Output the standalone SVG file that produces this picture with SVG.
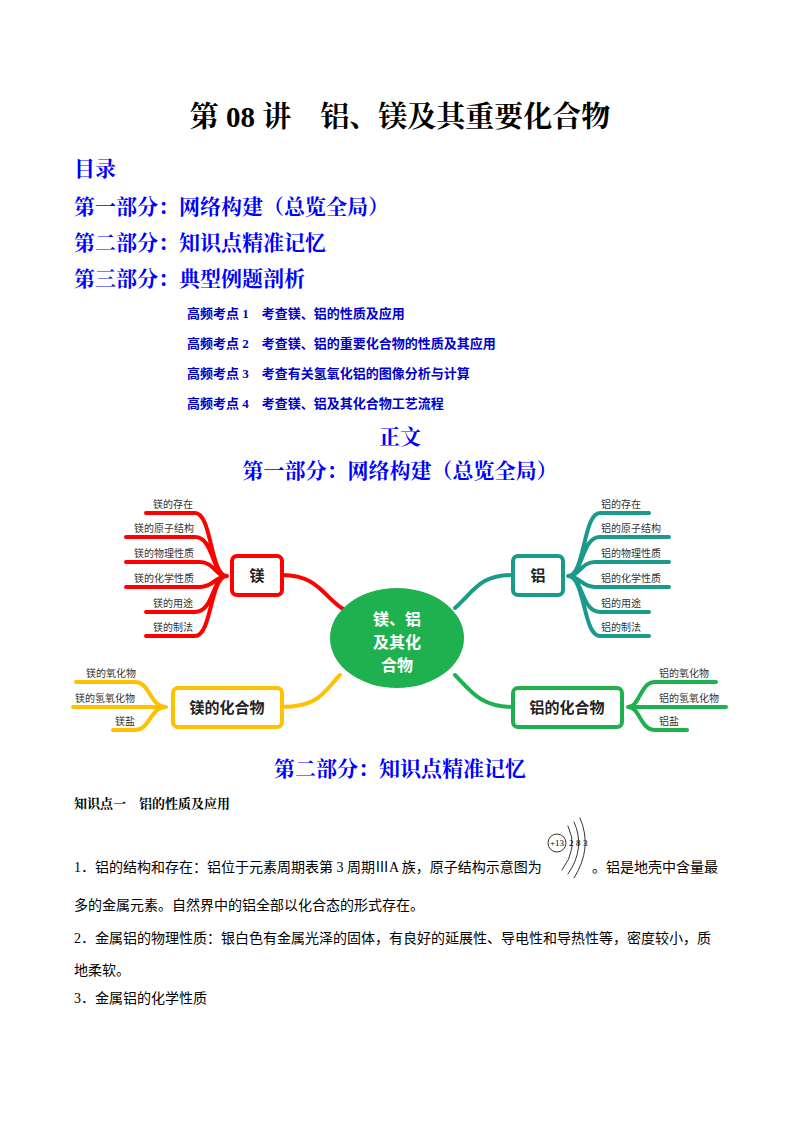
<svg xmlns="http://www.w3.org/2000/svg" width="800" height="1132" viewBox="0 0 800 1132">
<style>
.t{font-family:"Liberation Serif","Noto Serif CJK SC","Noto Sans CJK SC",serif;font-weight:bold}
.b{fill:#0000ff}
.s{font-family:"Liberation Serif","Noto Sans CJK SC",serif;font-size:13px;font-weight:bold;fill:#0000cc}
.p{font-family:"Liberation Serif","Noto Sans CJK SC",serif;font-size:14px;fill:#000}
.lf{font-family:"Noto Sans CJK SC",sans-serif;font-size:10px;fill:#333}
.bx{font-family:"Noto Sans CJK SC",sans-serif;font-size:15px;font-weight:bold;fill:#222}
.c{font-family:"Noto Sans CJK SC",sans-serif;font-weight:bold;font-size:16px;fill:#fff}
.r{stroke:#ff0000}.y{stroke:#ffc000}.g{stroke:#1a9a8a}.gr{stroke:#1fb050}
path{fill:none;stroke-width:4;stroke-linecap:round}
</style>
<rect width="800" height="1132" fill="#fff"/>
<text class="t" x="400" y="127" font-size="29" text-anchor="middle">第 08 讲　铝、镁及其重要化合物</text>
<text class="t b" x="74" y="176" font-size="21">目录</text>
<text class="t b" x="74" y="214" font-size="21">第一部分：网络构建（总览全局）</text>
<text class="t b" x="74" y="250" font-size="21">第二部分：知识点精准记忆</text>
<text class="t b" x="74" y="286" font-size="21">第三部分：典型例题剖析</text>
<text class="s" x="187" y="318">高频考点 1　考查镁、铝的性质及应用</text>
<text class="s" x="187" y="348">高频考点 2　考查镁、铝的重要化合物的性质及其应用</text>
<text class="s" x="187" y="378">高频考点 3　考查有关氢氧化铝的图像分析与计算</text>
<text class="s" x="187" y="408">高频考点 4　考查镁、铝及其化合物工艺流程</text>
<text class="t b" x="400" y="444" font-size="21" text-anchor="middle">正文</text>
<text class="t b" x="400" y="478" font-size="21" text-anchor="middle">第一部分：网络构建（总览全局）</text>
<g id="connectors">
<path class="r" d="M282 575 C320 575 325 600 345 610"/>
<path class="r" d="M227 576 C210 576 212 513 195 513 L146 513 M227 576 C212 576 214 537 195 537 L126 537 M227 576 C215 576 214 562 200 562 L126 562 M227 576 C215 576 214 587 200 587 L126 587 M227 576 C212 576 214 612 195 612 L146 612 M227 576 C210 576 212 636 195 636 L146 636"/>
<path class="y" d="M282 707 C320 707 325 690 340 675"/>
<path class="y" d="M166 707 C150 707 150 682 135 682 L76 682 M166 707 L73 707 M166 707 C150 707 150 730 135 730 L113 730"/>
<path class="g" d="M513 575 C480 575 475 590 455 608"/>
<path class="g" d="M568 576 C585 576 583 513 600 513 L649 513 M568 576 C583 576 581 537 600 537 L669 537 M568 576 C580 576 581 562 595 562 L669 562 M568 576 C580 576 581 587 595 587 L669 587 M568 576 C583 576 581 612 600 612 L649 612 M568 576 C585 576 583 636 600 636 L649 636"/>
<path class="gr" d="M513 707 C480 707 470 690 455 675"/>
<path class="gr" d="M628 707 C640 707 640 682 655 682 L716 682 M628 707 L726 707 M628 707 C640 707 640 730 655 730 L687 730"/>
</g>
<g id="center"><ellipse cx="397" cy="638" rx="67" ry="50" fill="#1fb050"/>
<text class="c" x="397" y="625" text-anchor="middle">镁、铝</text>
<text class="c" x="397" y="648" text-anchor="middle">及其化</text>
<text class="c" x="397" y="671" text-anchor="middle">合物</text></g>
<g id="mg"><rect x="232" y="556" width="50" height="39" rx="5" fill="#fff" stroke="#ff0000" stroke-width="4"/><text class="bx" x="257" y="581" text-anchor="middle">镁</text>
<text class="lf" x="153" y="508">镁的存在</text><text class="lf" x="134" y="532">镁的原子结构</text><text class="lf" x="134" y="557">镁的物理性质</text><text class="lf" x="134" y="582">镁的化学性质</text><text class="lf" x="153" y="607">镁的用途</text><text class="lf" x="153" y="631">镁的制法</text></g>
<g id="mgc"><rect x="173" y="688" width="109" height="39" rx="5" fill="#fff" stroke="#ffc000" stroke-width="4"/><text class="bx" x="227" y="713" text-anchor="middle">镁的化合物</text>
<text class="lf" x="86" y="677">镁的氧化物</text><text class="lf" x="75" y="702">镁的氢氧化物</text><text class="lf" x="115" y="725">镁盐</text></g>
<g id="al"><rect x="513" y="556" width="50" height="39" rx="5" fill="#fff" stroke="#1a9a8a" stroke-width="4"/><text class="bx" x="538" y="581" text-anchor="middle">铝</text>
<text class="lf" x="601" y="508">铝的存在</text><text class="lf" x="601" y="532">铝的原子结构</text><text class="lf" x="601" y="557">铝的物理性质</text><text class="lf" x="601" y="582">铝的化学性质</text><text class="lf" x="601" y="607">铝的用途</text><text class="lf" x="601" y="631">铝的制法</text></g>
<g id="alc"><rect x="513" y="688" width="109" height="39" rx="5" fill="#fff" stroke="#1fb050" stroke-width="4"/><text class="bx" x="567" y="713" text-anchor="middle">铝的化合物</text>
<text class="lf" x="659" y="677">铝的氧化物</text><text class="lf" x="659" y="702">铝的氢氧化物</text><text class="lf" x="659" y="725">铝盐</text></g>
<text class="t b" x="400" y="776" font-size="21" text-anchor="middle">第二部分：知识点精准记忆</text>
<text class="t" x="74" y="808" font-size="13">知识点一　铝的性质及应用</text>
<text class="p" x="74" y="872">1．铝的结构和存在：铝位于元素周期表第 3 周期ⅢA 族，原子结构示意图为</text>
<g id="atom" fill="none" stroke="#000" stroke-width="0.8"><circle cx="557" cy="843" r="9"/>
<path style="stroke:#000;stroke-width:0.8" d="M568 826 Q579 848 562 870 M574 822 Q586 848 568 874 M580 818 Q593 848 574 878"/></g>
<text x="557" y="846" font-family="Liberation Serif,serif" font-size="9" text-anchor="middle">+13</text>
<text x="569" y="846" font-family="Liberation Serif,serif" font-size="9">2</text>
<text x="576" y="846" font-family="Liberation Serif,serif" font-size="9">8</text>
<text x="583" y="846" font-family="Liberation Serif,serif" font-size="9">3</text>
<text class="p" x="592" y="872">。铝是地壳中含量最</text>
<text class="p" x="74" y="910">多的金属元素。自然界中的铝全部以化合态的形式存在。</text>
<text class="p" x="74" y="943">2．金属铝的物理性质：银白色有金属光泽的固体，有良好的延展性、导电性和导热性等，密度较小，质</text>
<text class="p" x="74" y="975">地柔软。</text>
<text class="p" x="74" y="1003">3．金属铝的化学性质</text>
</svg>
